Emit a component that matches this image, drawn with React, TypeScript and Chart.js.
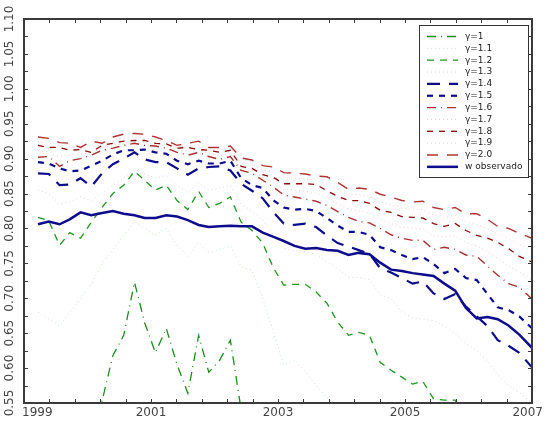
import React, { useEffect, useRef } from 'react';
import { Chart, registerables } from 'chart.js';

Chart.register(...registerables);

// Time axis (decimal years)
const years = [
  1999.22, 1999.39, 1999.56, 1999.72, 1999.89, 2000.06, 2000.23, 2000.40, 2000.57, 2000.74,
  2000.90, 2001.07, 2001.24, 2001.41, 2001.58, 2001.75, 2001.91, 2002.08, 2002.25, 2002.42,
  2002.59, 2002.76, 2002.93, 2003.09, 2003.26, 2003.43, 2003.60, 2003.77, 2003.94, 2004.11,
  2004.27, 2004.44, 2004.61, 2004.78, 2004.95, 2005.12, 2005.28, 2005.45, 2005.62, 2005.79,
  2005.96, 2006.13, 2006.30, 2006.46, 2006.63, 2006.80, 2007.00,
];

const g10 = [
  0.52, 0.51, 0.515, 0.525, 0.53, 0.54, 0.553, 0.618, 0.647, 0.723,
  0.665, 0.622, 0.657, 0.605, 0.564, 0.647, 0.594, 0.611, 0.640, 0.540,
  0.53, 0.525, 0.52, 0.51, 0.505, 0.50, 0.495, 0.49, 0.48, 0.47,
  0.465, 0.46, 0.45, 0.445, 0.44, 0.435, 0.43, 0.425, 0.42, 0.415,
  0.41, 0.405, 0.40, 0.395, 0.39, 0.385, 0.38,
];
const g11 = [
  0.68, 0.67, 0.66, 0.68, 0.70, 0.72, 0.75, 0.77, 0.79, 0.81,
  0.80, 0.79, 0.80, 0.775, 0.76, 0.78, 0.765, 0.77, 0.775, 0.745,
  0.74, 0.70, 0.65, 0.605, 0.612, 0.595, 0.575, 0.558, 0.545, 0.535,
  0.53, 0.52, 0.51, 0.50, 0.49, 0.48, 0.475, 0.47, 0.46, 0.455,
  0.45, 0.44, 0.435, 0.43, 0.42, 0.415, 0.41,
];
const g12 = [
  0.816, 0.811, 0.776, 0.794, 0.786, 0.809, 0.830, 0.850, 0.862, 0.882,
  0.869, 0.855, 0.862, 0.840, 0.827, 0.853, 0.830, 0.836, 0.845, 0.809,
  0.797, 0.779, 0.743, 0.719, 0.720, 0.720, 0.709, 0.693, 0.666, 0.647,
  0.651, 0.647, 0.608, 0.597, 0.587, 0.577, 0.581, 0.556, 0.554, 0.554,
  0.530, 0.520, 0.515, 0.505, 0.495, 0.490, 0.480,
];
const g13 = [
  0.855, 0.850, 0.835, 0.838, 0.845, 0.840, 0.850, 0.862, 0.872, 0.885,
  0.878, 0.872, 0.876, 0.862, 0.852, 0.865, 0.855, 0.858, 0.862, 0.835,
  0.825, 0.812, 0.790, 0.772, 0.768, 0.767, 0.763, 0.752, 0.742, 0.730,
  0.730, 0.727, 0.705, 0.700, 0.680, 0.672, 0.670, 0.668, 0.660, 0.650,
  0.635, 0.625, 0.610, 0.590, 0.575, 0.565, 0.550,
];
const g14 = [
  0.879, 0.878, 0.862, 0.863, 0.872, 0.860, 0.879, 0.892, 0.900, 0.909,
  0.899, 0.895, 0.895, 0.886, 0.877, 0.886, 0.888, 0.889, 0.883, 0.864,
  0.854, 0.843, 0.823, 0.807, 0.805, 0.807, 0.802, 0.790, 0.779, 0.774,
  0.769, 0.764, 0.743, 0.737, 0.729, 0.721, 0.724, 0.707, 0.699, 0.706,
  0.688, 0.674, 0.660, 0.640, 0.632, 0.622, 0.601,
];
const g15 = [
  0.895, 0.893, 0.886, 0.882, 0.883, 0.890, 0.897, 0.906, 0.912, 0.912,
  0.913, 0.909, 0.907, 0.897, 0.892, 0.897, 0.893, 0.893, 0.897, 0.872,
  0.862, 0.858, 0.840, 0.830, 0.827, 0.828, 0.825, 0.815, 0.804, 0.795,
  0.795, 0.791, 0.773, 0.769, 0.762, 0.756, 0.759, 0.749, 0.736, 0.742,
  0.729, 0.726, 0.706, 0.687, 0.683, 0.674, 0.657,
];
const g16 = [
  0.902, 0.903, 0.889, 0.897, 0.900, 0.905, 0.912, 0.915, 0.919, 0.922,
  0.919, 0.918, 0.915, 0.909, 0.905, 0.909, 0.903, 0.899, 0.903, 0.883,
  0.879, 0.869, 0.859, 0.848, 0.845, 0.842, 0.839, 0.833, 0.824, 0.816,
  0.810, 0.808, 0.800, 0.791, 0.786, 0.783, 0.783, 0.770, 0.773, 0.770,
  0.762, 0.760, 0.746, 0.733, 0.721, 0.716, 0.699,
];
const g17 = [
  0.911, 0.910, 0.903, 0.905, 0.907, 0.907, 0.916, 0.919, 0.922, 0.924,
  0.923, 0.920, 0.918, 0.912, 0.911, 0.911, 0.908, 0.904, 0.908, 0.886,
  0.883, 0.873, 0.866, 0.856, 0.855, 0.853, 0.851, 0.844, 0.835, 0.828,
  0.825, 0.822, 0.813, 0.807, 0.802, 0.800, 0.799, 0.789, 0.788, 0.789,
  0.780, 0.775, 0.766, 0.757, 0.746, 0.738, 0.726,
];
const g18 = [
  0.919, 0.916, 0.916, 0.912, 0.913, 0.909, 0.919, 0.922, 0.925, 0.926,
  0.926, 0.922, 0.921, 0.915, 0.916, 0.913, 0.912, 0.909, 0.912, 0.889,
  0.886, 0.877, 0.873, 0.864, 0.864, 0.864, 0.863, 0.854, 0.846, 0.840,
  0.840, 0.836, 0.826, 0.823, 0.817, 0.816, 0.815, 0.807, 0.803, 0.807,
  0.797, 0.790, 0.786, 0.780, 0.771, 0.760, 0.752,
];
const g19 = [
  0.925, 0.922, 0.920, 0.917, 0.914, 0.917, 0.921, 0.926, 0.930, 0.931,
  0.930, 0.927, 0.924, 0.917, 0.919, 0.919, 0.914, 0.912, 0.915, 0.895,
  0.892, 0.884, 0.881, 0.872, 0.872, 0.871, 0.869, 0.864, 0.856, 0.848,
  0.849, 0.846, 0.838, 0.834, 0.829, 0.827, 0.827, 0.819, 0.815, 0.819,
  0.809, 0.806, 0.800, 0.792, 0.786, 0.777, 0.769,
];
const g20 = [
  0.931, 0.929, 0.923, 0.922, 0.916, 0.925, 0.922, 0.931, 0.935, 0.936,
  0.935, 0.931, 0.926, 0.919, 0.922, 0.925, 0.916, 0.916, 0.918, 0.901,
  0.898, 0.890, 0.888, 0.880, 0.879, 0.878, 0.875, 0.874, 0.866, 0.856,
  0.858, 0.856, 0.849, 0.845, 0.840, 0.838, 0.839, 0.830, 0.827, 0.830,
  0.821, 0.821, 0.813, 0.803, 0.800, 0.793, 0.786,
];
const wObs = [
  0.806, 0.810, 0.806, 0.813, 0.823, 0.819, 0.822, 0.825, 0.821, 0.819,
  0.815, 0.815, 0.819, 0.817, 0.812, 0.805, 0.802, 0.803, 0.804, 0.803,
  0.803, 0.794, 0.788, 0.782, 0.775, 0.771, 0.772, 0.769, 0.768, 0.762,
  0.765, 0.763, 0.751, 0.741, 0.739, 0.736, 0.734, 0.732, 0.721, 0.711,
  0.686, 0.671, 0.673, 0.670, 0.661, 0.648, 0.629,
];

const seriesNames = ['γ=1', 'γ=1.1', 'γ=1.2', 'γ=1.3', 'γ=1.4', 'γ=1.5', 'γ=1.6', 'γ=1.7', 'γ=1.8', 'γ=1.9', 'γ=2.0', 'w observado'];
const seriesValues = [g10, g11, g12, g13, g14, g15, g16, g17, g18, g19, g20, wObs];

const yTickLabels = ['0.55', '0.60', '0.65', '0.70', '0.75', '0.80', '0.85', '0.90', '0.95', '1.00', '1.05', '1.10'];
const xTickLabels = ['1999', '2001', '2003', '2005', '2007'];

// styles (kept apart from the data)
const styles = [
  { color: '#1c8c1c', width: 1.3, dash: [9, 5, 1, 5] },
  { color: '#c8e6c8', width: 1, dash: [1, 3] },
  { color: '#1e961e', width: 1.3, dash: [7, 6] },
  { color: '#dadae4', width: 1, dash: [1, 3] },
  { color: '#0c0c8c', width: 2.2, dash: [13, 9] },
  { color: '#0c0c8c', width: 2.2, dash: [6, 6] },
  { color: '#a83030', width: 1.4, dash: [9, 5, 1, 5] },
  { color: '#f2cccc', width: 1, dash: [1, 3] },
  { color: '#8b0a0a', width: 1.3, dash: [6, 6] },
  { color: '#f2d0d0', width: 1, dash: [1, 3] },
  { color: '#b03434', width: 1.4, dash: [11, 9] },
  { color: '#0c0c8c', width: 2.5, dash: [] as number[] },
];

const FONT = '"DejaVu Sans", Verdana, sans-serif';

const framePlugin = {
  id: 'matlabFrame',
  afterDatasetsDraw(chart: any) {
    const { ctx, chartArea: a, scales } = chart;
    const xs = scales.x;
    const ys = scales.y;
    ctx.save();
    ctx.setLineDash([]);
    ctx.strokeStyle = '#3a3a3a';
    ctx.lineWidth = 1;
    ctx.beginPath();
    for (let i = 0; i <= 22; i++) {
      const py = Math.round(ys.getPixelForValue(0.55 + i * 0.025)) + 0.5;
      ctx.moveTo(a.left, py); ctx.lineTo(a.left + 4, py);
      ctx.moveTo(a.right - 4, py); ctx.lineTo(a.right, py);
    }
    for (let i = 0; i <= 20; i++) {
      const px = Math.round(xs.getPixelForValue(1999 + i * 0.4)) + 0.5;
      ctx.moveTo(px, a.bottom); ctx.lineTo(px, a.bottom - 4);
      ctx.moveTo(px, a.top); ctx.lineTo(px, a.top + 4);
    }
    ctx.stroke();
    ctx.lineWidth = 2;
    ctx.strokeRect(a.left, a.top, a.right - a.left, a.bottom - a.top);

    // y labels (rotated)
    ctx.fillStyle = '#444444';
    ctx.font = '12px ' + FONT;
    for (const lab of yTickLabels) {
      const py = ys.getPixelForValue(parseFloat(lab));
      ctx.save();
      ctx.translate(10, py);
      ctx.rotate(-Math.PI / 2);
      ctx.textAlign = 'center';
      ctx.textBaseline = 'middle';
      ctx.fillText(lab, 0, 0);
      ctx.restore();
    }
    // x labels
    ctx.textBaseline = 'middle';
    xTickLabels.forEach((lab, i) => {
      const px = xs.getPixelForValue(parseFloat(lab));
      if (i === 0) { ctx.textAlign = 'left'; ctx.fillText(lab, a.left - 2, 413); }
      else if (i === xTickLabels.length - 1) { ctx.textAlign = 'right'; ctx.fillText(lab, 543, 413); }
      else { ctx.textAlign = 'center'; ctx.fillText(lab, px, 413); }
    });

    // legend
    const bx = 419.5, by = 25.5, bw = 109, bh = 152;
    ctx.fillStyle = '#ffffff';
    ctx.fillRect(bx, by, bw, bh);
    ctx.lineWidth = 1;
    ctx.strokeStyle = '#333333';
    ctx.strokeRect(bx, by, bw, bh);
    ctx.font = '9px ' + FONT;
    ctx.textAlign = 'left';
    ctx.textBaseline = 'middle';
    seriesNames.forEach((name, i) => {
      const st = styles[i];
      const ly = 36.5 + i * 11.85;
      ctx.save();
      ctx.beginPath();
      ctx.strokeStyle = st.color;
      ctx.lineWidth = st.width;
      ctx.setLineDash(st.dash);
      ctx.moveTo(427, ly);
      ctx.lineTo(458, ly);
      ctx.stroke();
      ctx.restore();
      ctx.fillStyle = '#222222';
      ctx.fillText(name, 465, ly);
    });
    ctx.restore();
  },
};

export default function App() {
  const ref = useRef<HTMLCanvasElement | null>(null);
  useEffect(() => {
    if (!ref.current) return;
    const datasets = seriesValues.map((vals, i) => ({
      label: seriesNames[i],
      data: vals.map((v, j) => ({ x: years[j], y: v })),
      borderColor: styles[i].color,
      borderWidth: styles[i].width,
      borderDash: styles[i].dash,
      pointRadius: 0,
      tension: 0,
      fill: false,
      clip: 0,
      order: i === seriesValues.length - 1 ? 0 : 20 - i,
    }));
    const chart = new Chart(ref.current, {
      type: 'line',
      data: { datasets },
      options: {
        animation: false,
        responsive: false,
        maintainAspectRatio: false,
        events: [],
        layout: { padding: { left: 24, right: 17, top: 19, bottom: 21 } },
        plugins: { legend: { display: false }, tooltip: { enabled: false } },
        scales: {
          x: { type: 'linear', min: 1999, max: 2007, display: false },
          y: { type: 'linear', min: 0.55, max: 1.1, display: false },
        },
      },
      plugins: [framePlugin],
    } as any);
    return () => chart.destroy();
  }, []);
  return (
    <div style={{ position: 'fixed', left: 0, top: 0, width: 549, height: 424, background: '#fff' }}>
      <canvas ref={ref} width={549} height={424} style={{ width: 549, height: 424, display: 'block' }} />
    </div>
  );
}
